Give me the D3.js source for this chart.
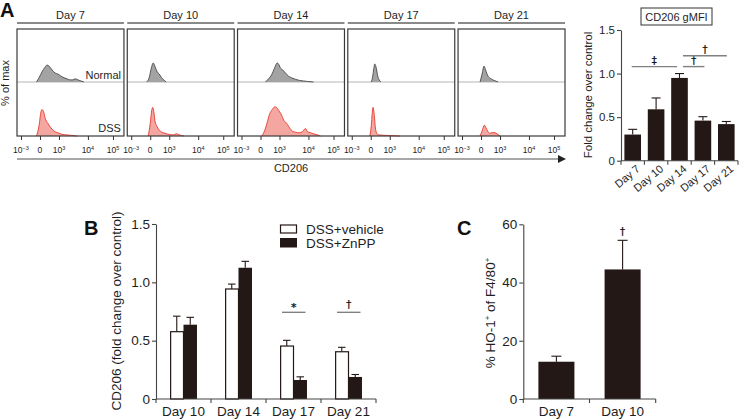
<!DOCTYPE html>
<html><head><meta charset="utf-8">
<script src="https://cdn.jsdelivr.net/npm/d3@7"></script>
<style>body{margin:0;background:#fff}svg{display:block;font-family:"Liberation Sans",Arial,sans-serif}</style>
</head><body>
<svg id="c" width="740" height="419"></svg>
<script>
// ---------- DATA ----------
// Panel A histograms (x: channel 0-1024, y: % of max)
const histDays = ["Day 7","Day 10","Day 14","Day 17","Day 21"];
const histTickChannels = [38,220,402,679,919];
const histTickLabels = [["10","−3"],["0",""],["10","3"],["10","4"],["10","5"]];
const normalCurves = [
  [[187,0],[211,8],[239,19],[268,28],[287,32],[306,30],[335,23],[364,17],[392,15],[421,11],[450,8],[479,6],[507,4],[536,4],[555,6],[584,4],[612,2],[641,0]],
  [[185,0],[211,9],[230,26],[249,36],[268,28],[287,19],[306,15],[329,8],[354,3],[373,0]],
  [[268,0],[297,6],[325,13],[354,26],[380,36],[392,34],[412,26],[431,23],[459,17],[488,11],[517,8],[555,5],[593,3],[632,2],[670,1],[727,0]],
  [[225,0],[239,11],[249,25],[258,34],[273,26],[287,11],[301,4],[316,0]],
  [[211,0],[230,15],[249,30],[263,23],[287,11],[316,6],[345,3],[383,0]]
];
const dssCurves = [
  [[187,0],[211,19],[230,45],[239,49],[254,45],[268,34],[297,23],[325,15],[354,9],[392,6],[431,3],[479,2],[526,1],[574,0]],
  [[201,0],[220,23],[234,47],[243,53],[254,45],[265,28],[287,17],[316,9],[345,6],[402,3],[440,2],[469,4],[498,2],[545,0]],
  [[234,0],[258,9],[284,25],[306,40],[332,49],[357,54],[373,53],[395,47],[412,42],[428,36],[445,28],[459,26],[479,21],[498,15],[526,9],[555,7],[593,6],[622,8],[651,14],[670,8],[699,6],[727,4],[766,2],[794,0]],
  [[211,0],[225,19],[234,42],[242,53],[254,38],[263,17],[275,6],[297,2],[383,1],[498,0]],
  [[211,0],[230,9],[252,20],[268,15],[287,8],[301,5],[325,6],[354,6],[373,4],[402,0]]
];
// Panel A bar chart (CD206 gMFI)
const gmfiDays = ["Day 7","Day 10","Day 14","Day 17","Day 21"];
const gmfiMean = [0.30,0.59,0.95,0.46,0.42];
const gmfiErr  = [0.06,0.13,0.05,0.045,0.03];
const gmfiTicks = [0,0.5,1.0,1.5];
// Panel B
const bDays = ["Day 10","Day 14","Day 17","Day 21"];
const bSeries = ["DSS+vehicle","DSS+ZnPP"];
const bVehicle = [0.577,0.943,0.454,0.405];
const bVehicleErr = [0.133,0.042,0.049,0.038];
const bZnPP = [0.637,1.125,0.163,0.189];
const bZnPPErr = [0.063,0.055,0.027,0.021];
const bTicks = [0,0.5,1.0,1.5];
// Panel C
const cDays = ["Day 7","Day 10"];
const cMean = [12.8,44.5];
const cErr  = [1.9,10.0];
const cTicks = [0,20,40,60];

// ---------- DRAW ----------
const svg = d3.select("#c");
const DARK = "#231815", AX = "#444", TXT = "#1e1e1e";
const SYMF = '"DejaVu Sans", "Liberation Sans", sans-serif';

function panelLabel(t,x,y){
  svg.append("text").attr("x",x).attr("y",y).attr("font-size",20).attr("font-weight","bold").attr("fill","#111").text(t);
}
panelLabel("A",0,17); panelLabel("B",84,235); panelLabel("C",457,235);

// ---- Panel A histograms ----
const hx = d3.scaleBand().domain(histDays).range([17,565]).paddingInner(0.03);
const boxTop = 29, boxMid = 82, boxBot = 136;
const yTop = d3.scaleLinear().domain([0,100]).range([boxMid, boxTop]);
const yBot = d3.scaleLinear().domain([0,100]).range([boxBot, boxMid]);

histDays.forEach((day,i)=>{
  const x0 = hx(day), w = hx.bandwidth();
  const cx = d3.scaleLinear().domain([0,1024]).range([x0, x0+w]);
  const g = svg.append("g");
  g.append("line").attr("x1",x0).attr("x2",x0+w).attr("y1",23).attr("y2",23).attr("stroke","#8a8a8a").attr("stroke-width",2.2);
  g.append("text").attr("x",x0+w/2).attr("y",19).attr("text-anchor","middle").attr("font-size",11).attr("fill",TXT).text(day);
  g.append("line").attr("x1",x0).attr("x2",x0+w).attr("y1",boxMid).attr("y2",boxMid).attr("stroke","#b5b5b5").attr("stroke-width",1);
  const aT = d3.area().x(d=>cx(d[0])).y0(yTop(0)).y1(d=>yTop(d[1])).curve(d3.curveMonotoneX);
  const aB = d3.area().x(d=>cx(d[0])).y0(yBot(0)).y1(d=>yBot(d[1])).curve(d3.curveMonotoneX);
  const lT = d3.line().x(d=>cx(d[0])).y(d=>yTop(d[1])).curve(d3.curveMonotoneX);
  const lB = d3.line().x(d=>cx(d[0])).y(d=>yBot(d[1])).curve(d3.curveMonotoneX);
  g.append("path").attr("d",aT(normalCurves[i])).attr("fill","#a3a3a3");
  g.append("path").attr("d",lT(normalCurves[i])).attr("fill","none").attr("stroke","#4a4a4a").attr("stroke-width",0.9);
  g.append("path").attr("d",aB(dssCurves[i])).attr("fill","#f3a7a0");
  g.append("path").attr("d",lB(dssCurves[i])).attr("fill","none").attr("stroke","#e8473d").attr("stroke-width",1);
  g.append("rect").attr("x",x0).attr("y",boxTop).attr("width",w).attr("height",boxBot-boxTop).attr("fill","none").attr("stroke","#3a3a3a").attr("stroke-width",1.2);
  const axis = d3.axisBottom(cx).tickValues(histTickChannels).tickSize(4).tickFormat("");
  const ag = g.append("g").attr("transform",`translate(0,${boxBot})`).call(axis);
  ag.select(".domain").remove();
  ag.selectAll(".tick line").attr("stroke","#333");
  histTickChannels.forEach((c,k)=>{
    const t = g.append("text").attr("x",cx(c)).attr("y",153).attr("text-anchor","middle").attr("font-size",8.5).attr("fill",TXT);
    t.append("tspan").text(histTickLabels[k][0]);
    if(histTickLabels[k][1]) t.append("tspan").attr("dy",-3.5).attr("font-size",5.5).text(histTickLabels[k][1]);
  });
  if(i===0){
    g.append("text").attr("x",x0+w-3).attr("y",79).attr("text-anchor","end").attr("font-size",11).attr("fill",TXT).text("Normal");
    g.append("text").attr("x",x0+w-3).attr("y",131.5).attr("text-anchor","end").attr("font-size",11).attr("fill",TXT).text("DSS");
  }
});
svg.append("text").attr("transform","translate(9,83) rotate(-90)").attr("text-anchor","middle").attr("font-size",11).attr("fill",TXT).text("% of max");
svg.append("line").attr("x1",17).attr("x2",559).attr("y1",159).attr("y2",159).attr("stroke","#8a8a8a").attr("stroke-width",1.6);
svg.append("path").attr("d","M558,155 L566,159 L558,163 Z").attr("fill","#222");
svg.append("text").attr("x",291).attr("y",172).attr("text-anchor","middle").attr("font-size",11).attr("fill",TXT).text("CD206");

// ---- generic helpers ----
function yAxis(scale,x,ticks,fmt,fs){
  const g = svg.append("g").attr("transform",`translate(${x},0)`)
    .call(d3.axisLeft(scale).tickValues(ticks).tickSize(4).tickSizeOuter(0).tickFormat(fmt));
  g.select(".domain").attr("stroke",AX).attr("stroke-width",1.1);
  g.selectAll(".tick line").attr("stroke",AX).attr("stroke-width",1.1);
  g.selectAll(".tick text").attr("font-size",fs).attr("fill",TXT).attr("font-family",'"Liberation Sans", Arial, sans-serif').attr("x",-6);
  return g;
}
function xBaseline(band,y){
  const r = band.range(), st = band.step();
  svg.append("line").attr("x1",r[0]).attr("x2",r[1]).attr("y1",y).attr("y2",y).attr("stroke",AX).attr("stroke-width",1.1);
  d3.range(band.domain().length+1).forEach(k=>{
    const xx = r[0]+k*st;
    svg.append("line").attr("x1",xx).attr("x2",xx).attr("y1",y).attr("y2",y+4).attr("stroke",AX).attr("stroke-width",1.1);
  });
}
function errBar(cx,yTopV,yErrV,cap){
  svg.append("line").attr("x1",cx).attr("x2",cx).attr("y1",yTopV).attr("y2",yErrV).attr("stroke",DARK).attr("stroke-width",1.1);
  svg.append("line").attr("x1",cx-cap/2).attr("x2",cx+cap/2).attr("y1",yErrV).attr("y2",yErrV).attr("stroke",DARK).attr("stroke-width",1.1);
}
function symText(x,y,sym,fs){
  return svg.append("text").attr("transform",`translate(${x},${y}) rotate(0.01)`).attr("text-anchor","middle")
    .attr("font-size",fs).attr("font-family",SYMF).attr("fill","#111").attr("stroke","#111").attr("stroke-width",0.25).text(sym);
}
function sig(x1,x2,y,sym,symY,fs){
  svg.append("line").attr("x1",x1).attr("x2",x2).attr("y1",y).attr("y2",y).attr("stroke","#808080").attr("stroke-width",1.4);
  symText((x1+x2)/2, symY, sym, fs);
}

// ---- Panel A bar chart ----
const ay = d3.scaleLinear().domain([0,1.5]).range([160.7,30]);
const axb = d3.scaleBand().domain(gmfiDays).range([621,738]).paddingInner(0.29).paddingOuter(0.145);
gmfiDays.forEach((d,i)=>{
  svg.append("rect").attr("x",axb(d)).attr("y",ay(gmfiMean[i])).attr("width",axb.bandwidth()).attr("height",ay(0)-ay(gmfiMean[i])).attr("fill",DARK);
  errBar(axb(d)+axb.bandwidth()/2, ay(gmfiMean[i]), ay(gmfiMean[i]+gmfiErr[i]), 9);
});
yAxis(ay,621,gmfiTicks,d=>d===0?"0":d3.format(".1f")(d),11.5);
xBaseline(axb,160.7);
gmfiDays.forEach(d=>{
  const c = axb(d)+axb.bandwidth()/2;
  svg.append("text").attr("transform",`translate(${c+8},170) rotate(-40)`).attr("text-anchor","end").attr("font-size",11).attr("fill",TXT).text(d);
});
svg.append("text").attr("transform","translate(592,95) rotate(-90)").attr("text-anchor","middle").attr("font-size",11.5).attr("fill",TXT).text("Fold change over control");
svg.append("rect").attr("x",641).attr("y",8).attr("width",71).attr("height",17).attr("fill","#fff").attr("stroke","#333").attr("stroke-width",1);
svg.append("text").attr("x",676.5).attr("y",20.5).attr("text-anchor","middle").attr("font-size",11).attr("fill",TXT).text("CD206 gMFI");
const acx = d => axb(d)+axb.bandwidth()/2;
sig(acx("Day 7")-1, acx("Day 14")-2.5, ay(1.08), "‡", 64.5, 10);
sig(acx("Day 14")+3.5, acx("Day 17")+1.5, ay(1.08), "†", 64.5, 10);
sig(acx("Day 14")+3.5, acx("Day 21")+0.5, ay(1.205), "†", 53.5, 10);

// ---- Panel B ----
const by = d3.scaleLinear().domain([0,1.5]).range([399,224]);
const bx0 = d3.scaleBand().domain(bDays).range([156,376]).paddingInner(0.51).paddingOuter(0.255);
const bx1 = d3.scaleBand().domain(bSeries).range([0,bx0.bandwidth()]);
const bVals = [bVehicle,bZnPP], bErrs = [bVehicleErr,bZnPPErr];
bDays.forEach((d,i)=>{
  bSeries.forEach((s,j)=>{
    const v = bVals[j][i], e = bErrs[j][i];
    const x = bx0(d)+bx1(s);
    svg.append("rect").attr("x",x+(j===0?0.6:0)).attr("y",by(v)).attr("width",bx1.bandwidth()-(j===0?0.6:0)).attr("height",by(0)-by(v))
      .attr("fill",j===0?"#fff":DARK).attr("stroke",DARK).attr("stroke-width",j===0?1.2:0);
    errBar(x+bx1.bandwidth()/2, by(v), by(v+e), 7.5);
  });
});
yAxis(by,156,bTicks,d=>d===0?"0":d3.format(".1f")(d),13.5);
xBaseline(bx0,399);
bDays.forEach(d=>{
  svg.append("text").attr("x",bx0(d)+bx0.bandwidth()/2).attr("y",416).attr("text-anchor","middle").attr("font-size",13.5).attr("fill",TXT).text(d);
});
svg.append("text").attr("transform","translate(121,311) rotate(-90)").attr("text-anchor","middle").attr("font-size",13.5).attr("fill",TXT).text("CD206 (fold change over control)");
const bc = d => bx0(d)+bx0.bandwidth()/2;
sig(bc("Day 17")-11.5, bc("Day 17")+12, by(0.743), "*", 311, 11);
sig(bc("Day 21")-11.5, bc("Day 21")+12, by(0.743), "†", 308, 10);
// legend
svg.append("rect").attr("x",280.5).attr("y",225).attr("width",16).attr("height",8).attr("fill","#fff").attr("stroke",DARK).attr("stroke-width",1.2);
svg.append("rect").attr("x",280).attr("y",238).attr("width",17).attr("height",9.5).attr("fill",DARK);
svg.append("text").attr("x",306).attr("y",233.5).attr("font-size",13.5).attr("fill",TXT).text(bSeries[0]);
svg.append("text").attr("x",306).attr("y",247.5).attr("font-size",13.5).attr("fill",TXT).text(bSeries[1]);

// ---- Panel C ----
const cy = d3.scaleLinear().domain([0,60]).range([399,224.3]);
const cxb = d3.scaleBand().domain(cDays).range([523.3,655.7]).paddingInner(0.456).paddingOuter(0.228);
cDays.forEach((d,i)=>{
  svg.append("rect").attr("x",cxb(d)).attr("y",cy(cMean[i])).attr("width",cxb.bandwidth()).attr("height",cy(0)-cy(cMean[i])).attr("fill",DARK);
  errBar(cxb(d)+cxb.bandwidth()/2, cy(cMean[i]), cy(cMean[i]+cErr[i]), 10);
});
yAxis(cy,523.3,cTicks,d3.format("d"),13.5);
xBaseline(cxb,399);
cDays.forEach(d=>{
  svg.append("text").attr("x",cxb(d)+cxb.bandwidth()/2).attr("y",416).attr("text-anchor","middle").attr("font-size",13.5).attr("fill",TXT).text(d);
});
symText(cxb("Day 10")+cxb.bandwidth()/2, cy(cMean[1]+cErr[1])-5, "†", 10);
const ct = svg.append("text").attr("transform","translate(495,313) rotate(-90)").attr("text-anchor","middle").attr("font-size",13.5).attr("fill",TXT);
ct.append("tspan").text("% HO-1");
ct.append("tspan").attr("dy",-5).attr("font-size",8).text("+");
ct.append("tspan").attr("dy",5).text(" of F4/80");
ct.append("tspan").attr("dy",-5).attr("font-size",8).text("+");
</script>
</body></html>
